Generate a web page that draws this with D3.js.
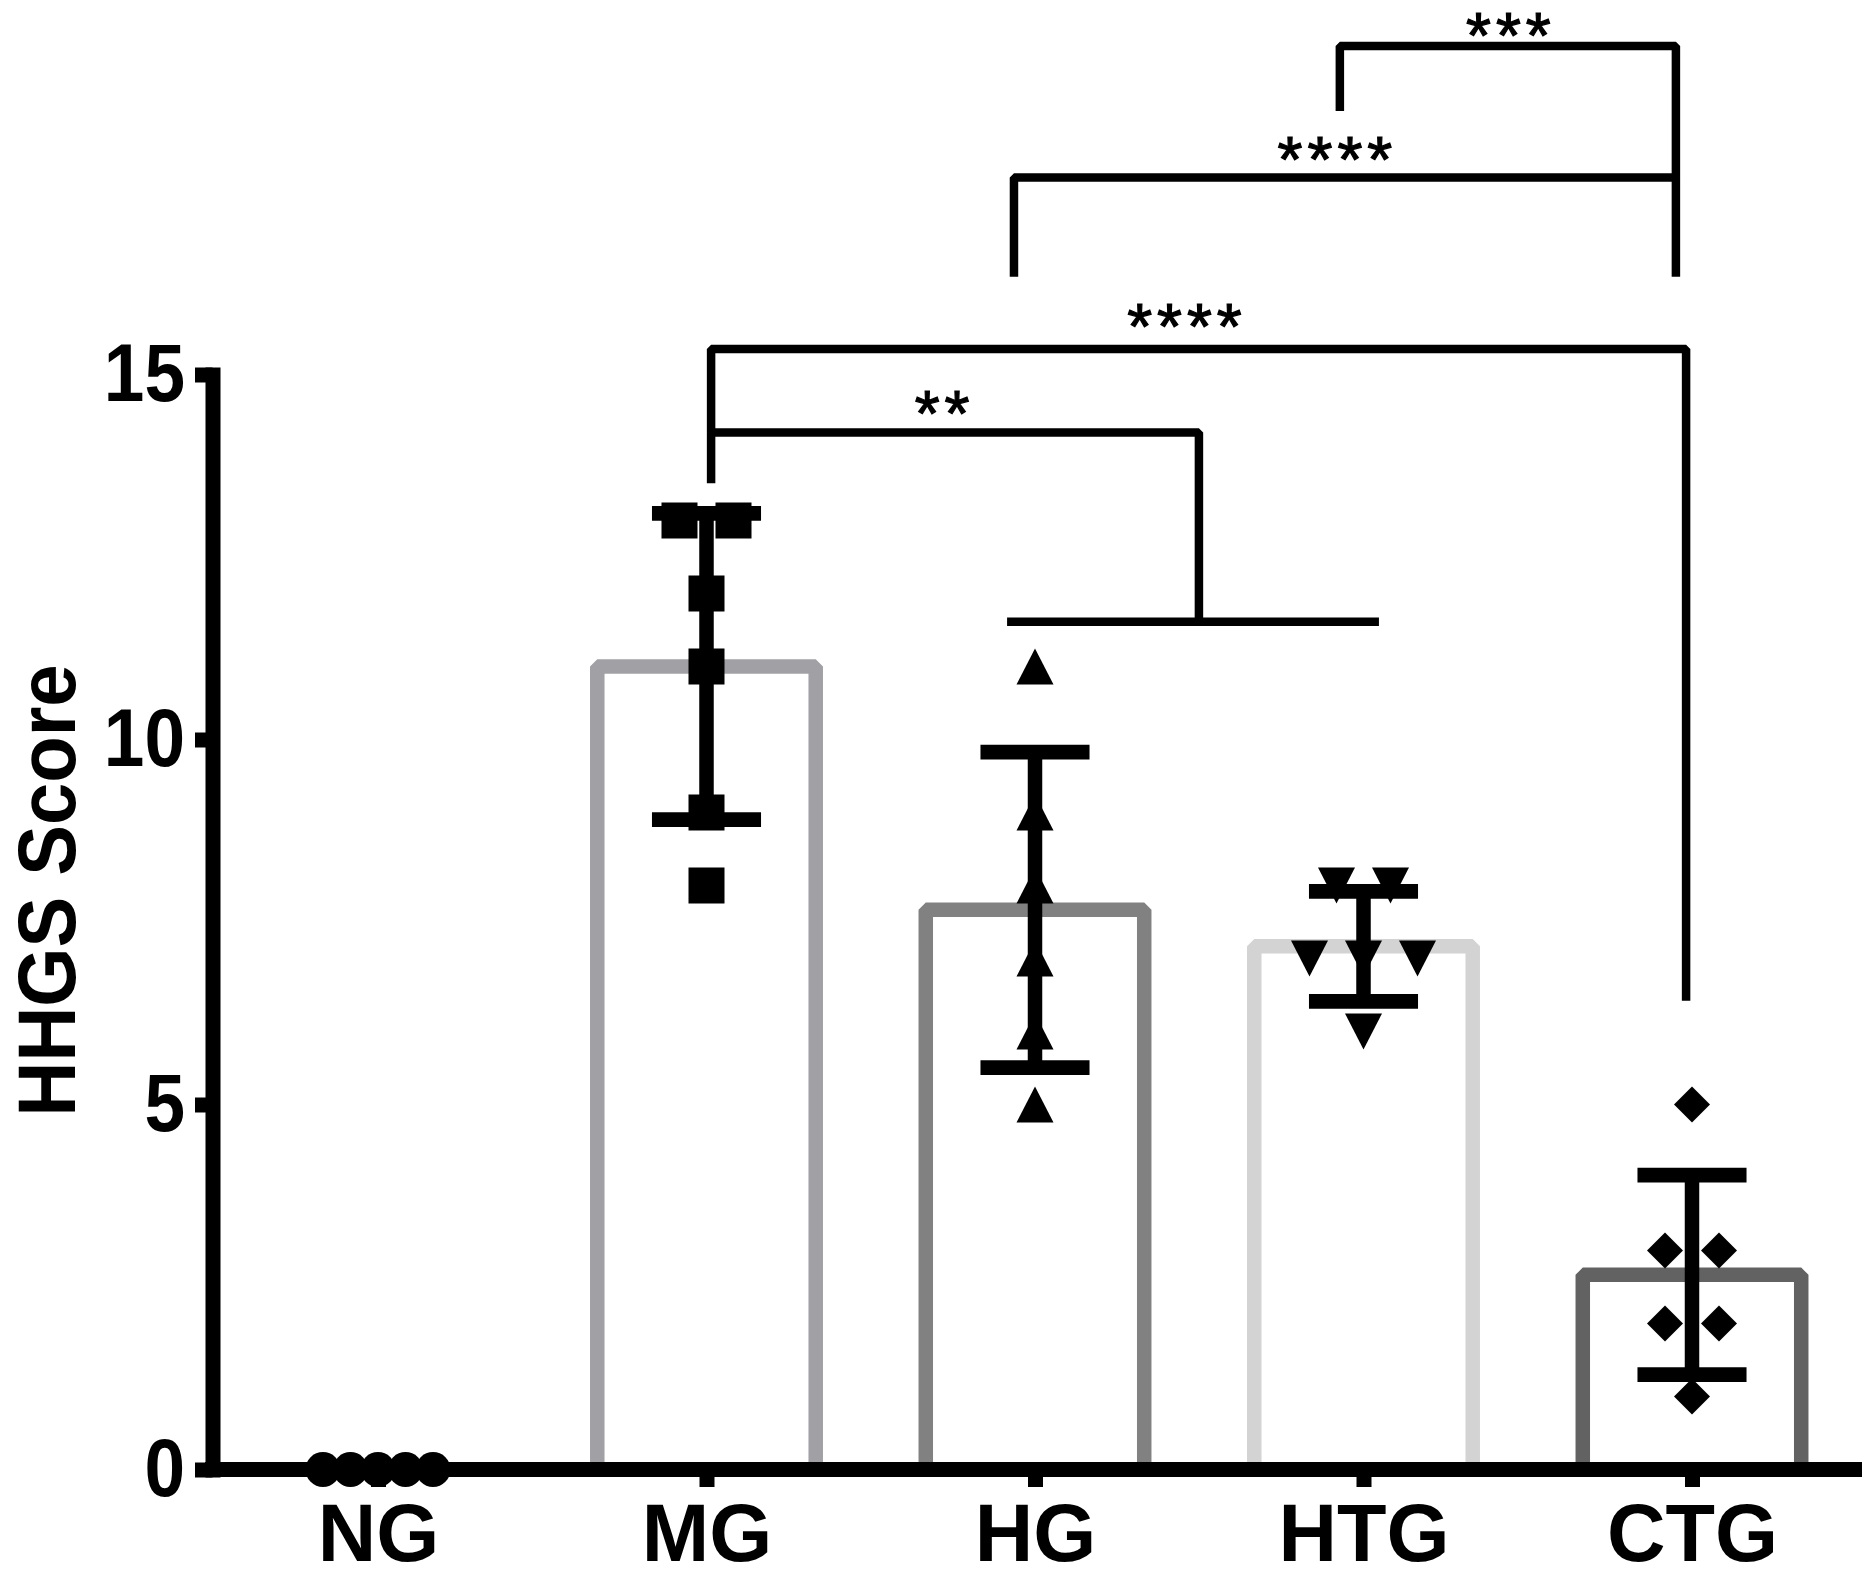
<!DOCTYPE html>
<html>
<head>
<meta charset="utf-8">
<script src="https://cdn.jsdelivr.net/npm/d3@7"></script>
<style>
  body { margin: 0; background: #fff; }
  svg { display: block; }
</style>
</head>
<body>
<div id="chart"></div>
<script>
// Chart data
const categories = ["NG", "MG", "HG", "HTG", "CTG"];
const ngScores = [0, 0, 0, 0, 0];
const mgScores = [13, 13, 12, 11, 9, 8];
const hgScores = [11, 9, 8, 7, 6, 5];
const htgScores = [8, 8, 7, 7, 7, 6];
const ctgScores = [5, 3, 3, 2, 2, 1];
const yTicks = [0, 5, 10, 15];
const yLabel = "HHGS Score";

// significance brackets: label, x in category-index units, y in score units
const sigLabels = ["**", "****", "****", "***"];
const sigLabelPos = [[1.717, 14.56], [2.455, 15.76], [2.913, 18.05], [3.441, 19.88]];
const bracketPaths = [
  [[1.014, 13.51], [1.014, 14.205], [2.499, 14.205], [2.499, 11.614]],
  [[1.915, 11.614], [3.047, 11.614]],
  [[1.014, 14.205], [1.014, 15.35], [3.982, 15.35], [3.982, 6.42]],
  [[1.936, 16.34], [1.936, 17.70], [3.951, 17.70], [3.951, 16.34]],
  [[2.928, 18.61], [2.928, 19.5], [3.951, 19.5], [3.951, 17.70]]
];

const groups = [ngScores, mgScores, hgScores, htgScores, ctgScores];
const barColors = ["#8c8c8c", "#a1a1a5", "#818181", "#d3d3d3", "#626262"];
const markerShapes = ["circle", "square", "triangle", "triangleDown", "diamond"];

const W = 1874, H = 1578;
const font = "'Liberation Sans', Arial, Helvetica, sans-serif";

const svg = d3.select("#chart").append("svg")
  .attr("width", W)
  .attr("height", H)
  .style("background", "#fff");

const x = d3.scalePoint().domain(categories).range([378, 1692]);
const xi = d3.scaleLinear().domain([0, categories.length - 1]).range([378, 1692]);
const y = d3.scaleLinear().domain([0, 15]).range([1469.5, 374.5]);

const step = x.step();
const barW = step * 0.665;
const capW = step * 0.332;
const spread = step * 0.1644;   // gap between equal-valued points
const maxSpread = step * 0.335; // widest row of equal-valued points

const stats = groups.map(vals => ({
  mean: d3.mean(vals),
  sd: d3.deviation(vals) || 0
}));

// bars
svg.append("g").selectAll("rect")
  .data(categories.filter((c, i) => stats[i].mean > 0))
  .join("rect")
  .attr("x", c => x(c) - barW / 2)
  .attr("y", c => y(stats[categories.indexOf(c)].mean))
  .attr("width", barW)
  .attr("height", c => y(0) - y(stats[categories.indexOf(c)].mean))
  .attr("fill", "#fff")
  .attr("stroke", c => barColors[categories.indexOf(c)])
  .attr("stroke-width", 14.5)
  .attr("stroke-linejoin", "bevel");

// y axis
const tickScale = 0.89;
const yAxis = svg.append("g")
  .attr("transform", "translate(212.5,0)")
  .call(d3.axisLeft(y).tickValues(yTicks).tickSize(17.5).tickSizeOuter(0).tickPadding(10));
yAxis.select(".domain")
  .attr("stroke", "#000")
  .attr("stroke-width", 15)
  .attr("stroke-linecap", "square");
yAxis.selectAll(".tick line").attr("stroke", "#000").attr("stroke-width", 15);
yAxis.selectAll(".tick text")
  .attr("fill", "#000")
  .attr("x", -27.5 / tickScale)
  .attr("transform", `scale(${tickScale},1)`)
  .style("font-family", font)
  .style("font-weight", "bold")
  .style("font-size", "82px");

// x axis
const xAxis = svg.append("g")
  .attr("transform", `translate(0,${y(0)})`)
  .call(d3.axisBottom(x).tickSize(17.5).tickPadding(16));
xAxis.select(".domain").remove();
xAxis.append("line")
  .attr("x1", 205).attr("x2", 1862)
  .attr("y1", 0).attr("y2", 0)
  .attr("stroke", "#000")
  .attr("stroke-width", 15);
xAxis.selectAll(".tick line").attr("stroke", "#000").attr("stroke-width", 15);
xAxis.selectAll(".tick text")
  .attr("fill", "#000")
  .style("font-family", font)
  .style("font-weight", "bold")
  .style("font-size", "81px");

// y label
svg.append("text")
  .attr("transform", "translate(74.5,890.5) rotate(-90)")
  .attr("text-anchor", "middle")
  .attr("textLength", 452)
  .attr("lengthAdjust", "spacingAndGlyphs")
  .style("font-family", font)
  .style("font-weight", "bold")
  .style("font-size", "82px")
  .text(yLabel);

// error bars (mean ± SD)
const err = svg.append("g").attr("stroke", "#000");
categories.forEach((c, i) => {
  const s = stats[i];
  if (s.sd <= 0) return;
  const cx = x(c);
  err.append("line")
    .attr("x1", cx).attr("x2", cx)
    .attr("y1", y(s.mean - s.sd)).attr("y2", y(s.mean + s.sd))
    .attr("stroke-width", 14.5);
  [s.mean - s.sd, s.mean + s.sd].forEach(v => {
    err.append("line")
      .attr("x1", cx - capW / 2).attr("x2", cx + capW / 2)
      .attr("y1", y(v)).attr("y2", y(v))
      .attr("stroke-width", 14.7);
  });
});

// scatter points, equal values spread side by side
function markerPath(shape) {
  const h = 18;
  if (shape === "square") return `M${-h},${-h}H${h}V${h}H${-h}Z`;
  if (shape === "triangle") return `M0,${-h}L${h + 0.5},${h}H${-h - 0.5}Z`;
  if (shape === "triangleDown") return `M0,${h}L${h + 0.5},${-h}H${-h - 0.5}Z`;
  if (shape === "diamond") return `M0,${-h}L${h},0L0,${h}L${-h},0Z`;
  return d3.arc()({ innerRadius: 0, outerRadius: 17.5, startAngle: 0, endAngle: 2 * Math.PI });
}

const pts = svg.append("g").attr("fill", "#000");
categories.forEach((c, i) => {
  d3.group(groups[i], v => v).forEach((vals, v) => {
    const n = vals.length;
    const gap = n > 1 ? Math.min(spread, maxSpread / (n - 1)) : 0;
    vals.forEach((val, k) => {
      pts.append("path")
        .attr("d", markerPath(markerShapes[i]))
        .attr("transform", `translate(${x(c) + (k - (n - 1) / 2) * gap},${y(val)})`);
    });
  });
});

// significance brackets
const bracketLine = d3.line().x(d => xi(d[0])).y(d => y(d[1]));
svg.append("g").selectAll("path")
  .data(bracketPaths)
  .join("path")
  .attr("d", bracketLine)
  .attr("fill", "none")
  .attr("stroke", "#000")
  .attr("stroke-width", 8.5)
  .attr("stroke-linejoin", "bevel");

// asterisks: keep the text box inside the top edge
const starSize = 64;
svg.append("g").selectAll("text")
  .data(sigLabels)
  .join("text")
  .attr("x", (d, i) => xi(sigLabelPos[i][0]) + 2.5)
  .attr("y", (d, i) => Math.max(y(sigLabelPos[i][1]) + starSize * 0.465, starSize * 0.912))
  .attr("text-anchor", "middle")
  .attr("stroke", "#000")
  .attr("stroke-width", 1.2)
  .style("letter-spacing", "5px")
  .style("font-family", font)
  .style("font-size", starSize + "px")
  .text(d => d);
</script>
</body>
</html>
